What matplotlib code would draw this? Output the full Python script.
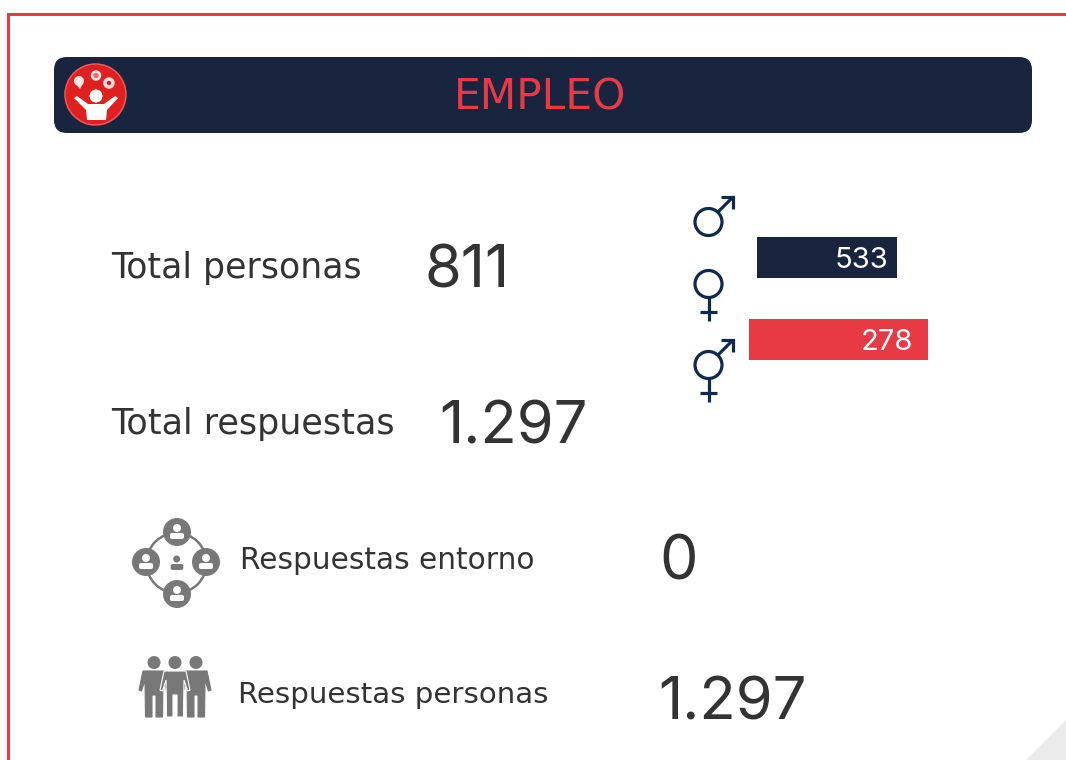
import matplotlib
matplotlib.use('Agg')
import matplotlib.pyplot as plt
from matplotlib.patches import Circle, FancyBboxPatch, Polygon, Rectangle

RED = '#e83a45'
NAVY = '#19243f'
ICON_BLUE = '#0f2a4e'
GREY = '#787878'
TEXT = '#333333'

title = 'EMPLEO'
total_personas = '811'
total_respuestas = '1.297'
respuestas_entorno = '0'
respuestas_personas = '1.297'
gender_values = ['533', '278']

LABEL_FONT = ['DejaVu Sans']
NUMBER_FONT = ['Inter', 'DejaVu Sans']

fig = plt.figure(figsize=(10.66, 7.6), dpi=100)
ax = fig.add_axes([0, 0, 1, 1])
ax.set_xlim(0, 1066)
ax.set_ylim(760, 0)
ax.axis('off')


def line(xs, ys, color, lw=3.2, z=3):
    # lw comes in pixels here
    ax.plot(xs, ys, color=color, lw=lw * 0.72, solid_capstyle='butt', solid_joinstyle='miter', zorder=z)


def circle(x, y, r, fc='none', ec='none', lw=0, z=3):
    ax.add_patch(Circle((x, y), r, fc=fc, ec=ec, lw=lw * 0.72, zorder=z))


# frame and corner fold
ax.add_patch(Rectangle((7, 13), 2.5, 747, fc=RED, ec='none'))
ax.add_patch(Rectangle((7, 13), 1059, 2.5, fc=RED, ec='none'))
ax.add_patch(Polygon([(1026, 760), (1066, 720), (1066, 760)], fc='#ebebeb', ec='none'))

# header
ax.add_patch(FancyBboxPatch((54, 57), 978, 76, boxstyle='round,pad=0,rounding_size=13', fc=NAVY, ec='none', zorder=2))
ax.text(540, 109, title, color=RED, fontsize=30.5, ha='center', va='baseline', zorder=4, family=LABEL_FONT)

# logo
circle(95.5, 94.5, 30.5, fc='#e0201f', ec='#ee5a5a', lw=1.5, z=4)
circle(96, 96, 6.5, fc='white', z=5)
ax.add_patch(Polygon([(74, 98), (77, 96), (88, 104), (104, 104), (115, 96), (118, 98), (107, 110),
                      (106, 120), (87, 120), (86, 110)], fc='white', ec='none', zorder=5))
circle(79, 81, 5, fc='#ffe6e6', z=5)
ax.add_patch(Polygon([(75, 83), (83, 83), (80, 89)], fc='#ffe6e6', ec='none', zorder=5))
circle(96, 75.5, 4, fc='#e8706c', ec='#ffe6e6', lw=2.5, z=5)
circle(109, 83, 4, fc='#c8201f', ec='#ffdcdc', lw=3.5, z=5)

# main figures
ax.text(111, 278, 'Total personas', color=TEXT, fontsize=25, va='baseline', family=LABEL_FONT)
ax.text(425, 287, total_personas, color=TEXT, fontsize=43, va='baseline', family=NUMBER_FONT)
ax.text(111, 434, 'Total respuestas', color=TEXT, fontsize=25.2, va='baseline', family=LABEL_FONT)
ax.text(439, 444, total_respuestas, color=TEXT, fontsize=43, va='baseline', family=NUMBER_FONT)

# gender symbols
for cy, arrow, stem in [(222, True, False), (284, False, True), (365, True, True)]:
    circle(708.5, cy, 13.5, ec=ICON_BLUE, lw=3.2)
    if arrow:
        line([718, 733], [cy - 10, cy - 25], ICON_BLUE)
        line([721, 733, 733], [cy - 25, cy - 25, cy - 13], ICON_BLUE)
    if stem:
        line([708.5, 708.5], [cy + 14, cy + 37], ICON_BLUE)
        line([700, 717], [cy + 28, cy + 28], ICON_BLUE)

# gender bars
ax.add_patch(Rectangle((757, 237), 140, 41, fc=NAVY, ec='none'))
ax.add_patch(Rectangle((749, 319), 179, 41, fc=RED, ec='none'))
ax.text(888, 268, gender_values[0], color='white', fontsize=21, ha='right', va='baseline', zorder=4,
        family=NUMBER_FONT)
ax.text(913, 350, gender_values[1], color='white', fontsize=21, ha='right', va='baseline', zorder=4,
        family=NUMBER_FONT)

# network icon
circle(176.5, 563, 30, ec=GREY, lw=2.5)
for nx, ny in [(177, 532), (146, 562), (206, 562), (177, 594)]:
    circle(nx, ny, 14, fc=GREY, z=4)
    circle(nx, ny - 4, 4, fc='white', z=5)
    ax.add_patch(FancyBboxPatch((nx - 7, ny + 1), 14, 6, boxstyle='round,pad=0,rounding_size=2',
                                fc='white', ec='none', zorder=5))
circle(176.7, 559, 3.5, fc=GREY, z=4)
ax.add_patch(FancyBboxPatch((170.7, 564), 12.6, 6, boxstyle='round,pad=0,rounding_size=2',
                            fc=GREY, ec='none', zorder=4))

ax.text(240, 569, 'Respuestas entorno', color=TEXT, fontsize=21.3, va='baseline', family=LABEL_FONT)
ax.text(659, 579, respuestas_entorno, color=TEXT, fontsize=44, va='baseline', family=NUMBER_FONT)


# people icon
def person(cx, z, edge=GREY):
    circle(cx, 662.5, 6.5, fc=GREY, z=z)
    body = [(cx - 11, 671), (cx + 11, 671), (cx + 15, 690), (cx + 12.5, 691), (cx + 9, 680),
            (cx + 8.5, 717), (cx + 2, 717), (cx + 2, 695), (cx - 2, 695), (cx - 2, 717), (cx - 8.5, 717),
            (cx - 9, 680), (cx - 12.5, 691), (cx - 15, 690)]
    ax.add_patch(Polygon(body, fc=GREY, ec=edge, lw=0.8, zorder=z))


person(154, 3)
person(196, 3)
person(175, 4, edge='white')

ax.text(238, 703, 'Respuestas personas', color=TEXT, fontsize=21.1, va='baseline', family=LABEL_FONT)
ax.text(658, 720, respuestas_personas, color=TEXT, fontsize=43, va='baseline', family=NUMBER_FONT)

fig.savefig('out.png', dpi=100)
